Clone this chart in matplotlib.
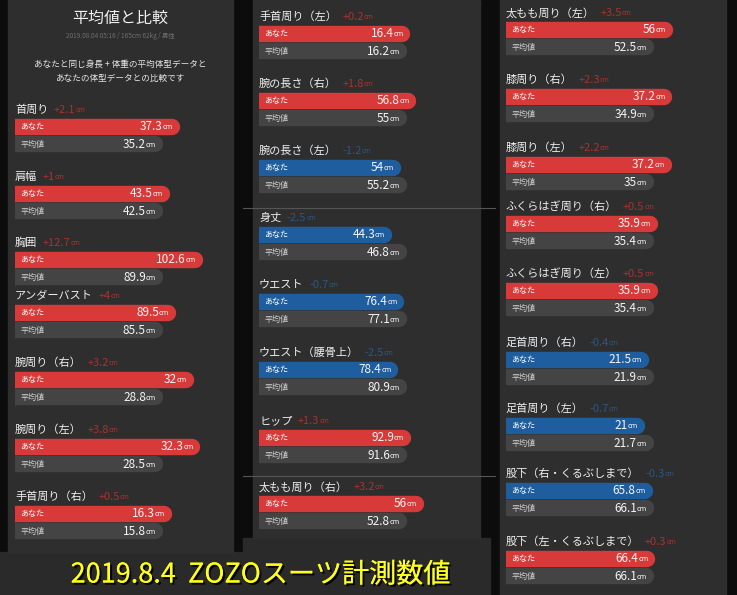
import matplotlib
matplotlib.use("Agg")
import matplotlib.pyplot as plt
import matplotlib.patheffects as pe
from matplotlib.patches import Rectangle

plt.rcParams['font.family'] = ['Noto Sans CJK JP', 'DejaVu Sans']

# data: measured ("あなた") vs average ("平均値"), cm
labels1 = ["首周り", "肩幅", "胸囲", "アンダーバスト", "腕周り（右）", "腕周り（左）", "手首周り（右）"]
you1 = [37.3, 43.5, 102.6, 89.5, 32, 32.3, 16.3]
avg1 = [35.2, 42.5, 89.9, 85.5, 28.8, 28.5, 15.8]

labels2 = ["手首周り（左）", "腕の長さ（右）", "腕の長さ（左）", "身丈", "ウエスト",
           "ウエスト（腰骨上）", "ヒップ", "太もも周り（右）"]
you2 = [16.4, 56.8, 54, 44.3, 76.4, 78.4, 92.9, 56]
avg2 = [16.2, 55, 55.2, 46.8, 77.1, 80.9, 91.6, 52.8]

labels3 = ["太もも周り（左）", "膝周り（右）", "膝周り（左）", "ふくらはぎ周り（右）",
           "ふくらはぎ周り（左）", "足首周り（右）", "足首周り（左）",
           "股下（右・くるぶしまで）", "股下（左・くるぶしまで）"]
you3 = [56, 37.2, 37.2, 35.9, 35.9, 21.5, 21, 65.8, 66.4]
avg3 = [52.5, 34.9, 35, 35.4, 35.4, 21.9, 21.7, 66.1, 66.1]

# layout (pixel rows of each item label)
rows1 = [110, 177, 243, 296, 363, 430, 497]
rows2 = [17, 84, 151, 218, 285, 353, 421, 487]
rows3 = [13, 80, 148, 207, 274, 343, 409, 474, 542]

W, H = 737, 595
BG = "#0c0c0c"
PANEL = "#2e2e2e"
RED = "#d83a3a"
BLUE = "#1f5e9e"
GRAY = "#444444"
RED_DIM = "#a8322f"
BLUE_DIM = "#2c5682"
PPU = 280  # pixels per ratio unit

fig = plt.figure(figsize=(W / 100, H / 100), dpi=100, facecolor=BG)
bg = fig.add_axes([0, 0, 1, 1])
bg.set_xlim(0, W)
bg.set_ylim(H, 0)
bg.axis("off")
bg.set_facecolor(BG)

# screenshots / caption backgrounds
bg.add_patch(Rectangle((0, 552), 490, 43, color="#2a2a2a", zorder=0))
bg.add_patch(Rectangle((243, 538), 247, 14, color="#2a2a2a", zorder=0))
bg.add_patch(Rectangle((8, 0), 225, 553, color=PANEL, zorder=1))
bg.add_patch(Rectangle((253, 0), 227, 538, color=PANEL, zorder=1))
bg.add_patch(Rectangle((500, 0), 226, 595, color=PANEL, zorder=1))
for yy in (208, 476):
    bg.plot([243, 495], [yy, yy], color="#555555", lw=0.8, zorder=2)

# header of left screenshot
bg.text(120, 18, "平均値と比較", color="#f0f0f0", fontsize=11.5, ha="center", va="center", zorder=3)
bg.text(120, 36, "2019.08.04 05:16 / 165cm 62kg / 男性", color="#6e6e6e", fontsize=4.6,
        ha="center", va="center", zorder=3)
bg.text(120, 64, "あなたと同じ身長 + 体重の平均体型データと", color="#e6e6e6", fontsize=6.2,
        ha="center", va="center", zorder=3)
bg.text(120, 78, "あなたの体型データとの比較です", color="#e6e6e6", fontsize=6.2,
        ha="center", va="center", zorder=3)

# caption
bg.text(261, 575, "2019.8.4  ZOZOスーツ計測数値", color="#ffff1a", fontsize=19.5,
        ha="center", va="center", zorder=3,
        path_effects=[pe.withSimplePatchShadow(offset=(1.5, -1.5), shadow_rgbFace="black", alpha=0.9),
                      pe.Normal()])


def fmt(v):
    return f"{v:g}"


def panel(x0, x1, labels, you, avg, rows):
    ax = fig.add_axes([x0 / W, 0, (x1 - x0) / W, 1])
    ax.set_xlim(0.5, 0.5 + (x1 - x0) / PPU)
    ax.set_ylim(H, 0)
    ax.axis("off")
    ax.patch.set_alpha(0)
    for lab, y, a, row in zip(labels, you, avg, rows):
        d = round(y - a, 1)
        up = d >= 0
        bar_c = RED if up else BLUE
        dim_c = RED_DIM if up else BLUE_DIM
        t = bg.text(x0, row, lab, color="#eeeeee", fontsize=8, ha="left", va="center", zorder=3)
        dt = bg.annotate(("+" if up else "") + fmt(d), xy=(1, 0.5), xycoords=t, xytext=(4, 0),
                         textcoords="offset points", color=dim_c, fontsize=8, va="center", zorder=3)
        bg.annotate("cm", xy=(1, 0.12), xycoords=dt, color=dim_c, fontsize=5, va="bottom", zorder=3)
        for val, yy, c, name, tc in ((y, row + 16.5, bar_c, "あなた", "#ffffff"),
                                     (a, row + 34, GRAY, "平均値", "#d0d0d0")):
            r = val / a
            lc = ax.hlines(yy, 0.5, r, colors=c, lw=11.8, zorder=2)
            lc.set_capstyle("round")
            ax.annotate(name, xy=(0.5, yy), xytext=(4, 0), textcoords="offset points",
                        color=tc, fontsize=5.8, va="center", zorder=3)
            num = ax.annotate(fmt(val), xy=(r, yy), xytext=(-6.5, -0.3), textcoords="offset points",
                              color="#f4f4f4", fontsize=8.5, ha="right", va="center", zorder=3)
            ax.annotate("cm", xy=(1, 0.18), xycoords=num, color="#f4f4f4", fontsize=5.2,
                        va="bottom", zorder=3)


panel(15, 233, labels1, you1, avg1, rows1)
panel(259, 480, labels2, you2, avg2, rows2)
panel(506, 726, labels3, you3, avg3, rows3)

fig.savefig("out.png", dpi=100, facecolor=BG)
